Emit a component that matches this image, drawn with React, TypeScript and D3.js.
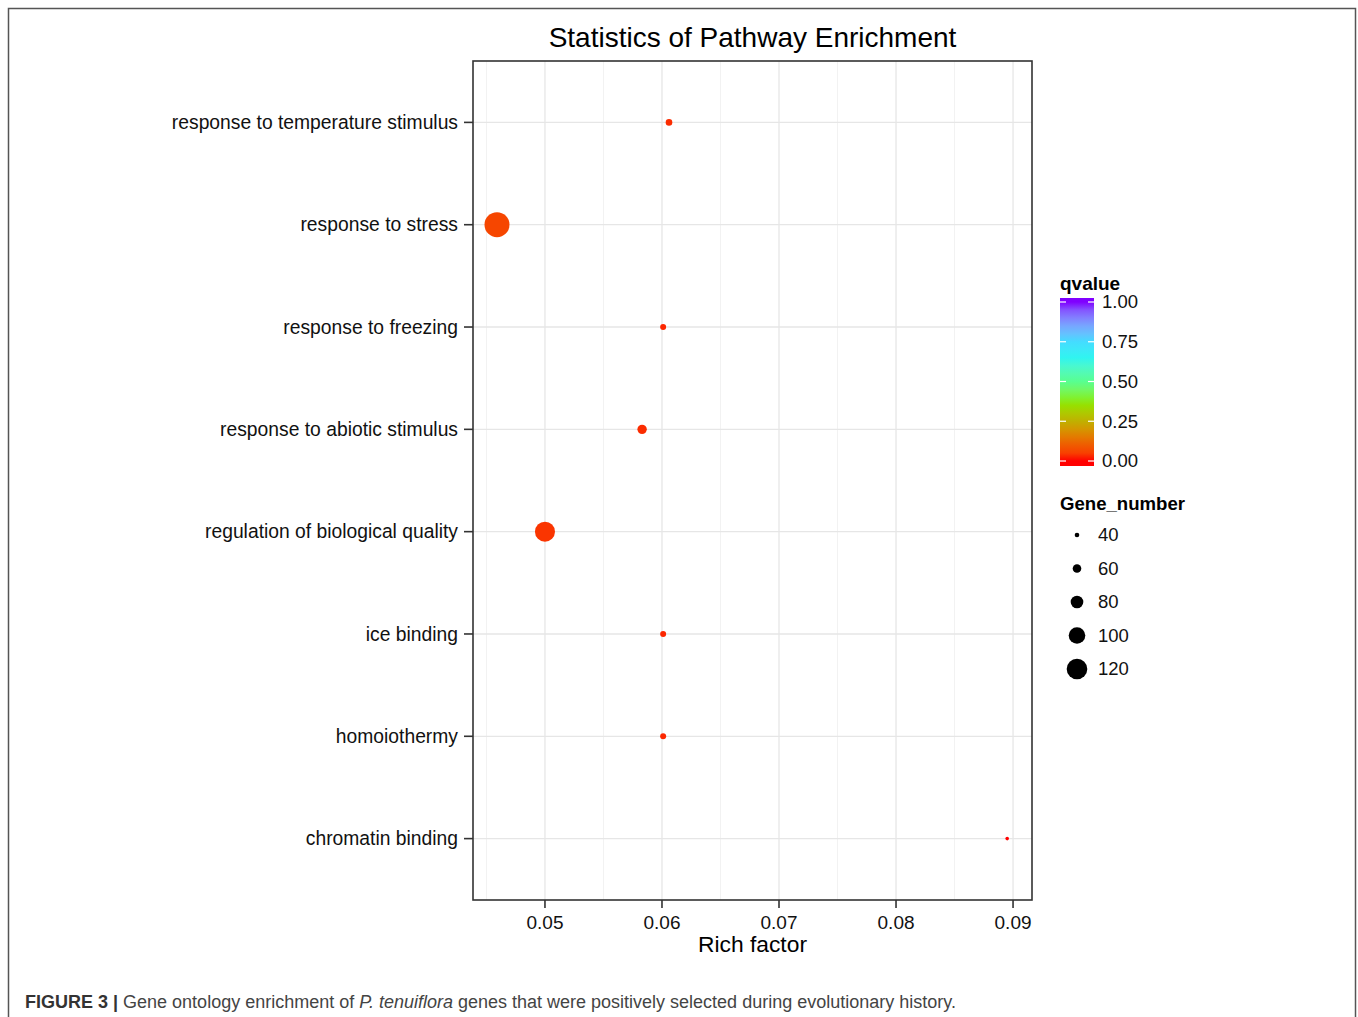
import React from "react";
import * as d3 from "d3";

const categories = [
  "response to temperature stimulus",
  "response to stress",
  "response to freezing",
  "response to abiotic stimulus",
  "regulation of biological quality",
  "ice binding",
  "homoiothermy",
  "chromatin binding",
];
const richFactor = [0.0606, 0.0459, 0.0601, 0.0583, 0.05, 0.0601, 0.0601, 0.0895];
const geneNumber = [50, 142, 47, 64, 117, 47, 47, 35];
const qvalue = [0.025, 0.06, 0.02, 0.025, 0.035, 0.02, 0.02, 0.0];

const xTicks = [0.05, 0.06, 0.07, 0.08, 0.09];
const xMinor = [0.045, 0.055, 0.065, 0.075, 0.085];
const xLimits = [0.04385, 0.09162];
const qTicks = [0, 0.25, 0.5, 0.75, 1];
const sizeBreaks = [40, 60, 80, 100, 120];
const colorStops = [0, 0.12, 0.25, 0.38, 0.5, 0.65, 0.75, 0.86, 1];
const colorValues = ["#ff0000", "#ec6400", "#c0b000", "#84ee00", "#58ff90", "#30f4f0", "#44dcff", "#7aa0ff", "#8000ff"];

const FONT = "'Liberation Sans', Arial, Helvetica, sans-serif";

export default function App() {
  const W = 1358, H = 1017;
  const pL = 473, pR = 1032, pT = 61, pB = 900;

  const x = d3.scaleLinear().domain(xLimits).range([pL, pR]);
  const y = d3.scalePoint<string>().domain(categories).range([pT, pB]).padding(0.6);
  const r = d3.scaleLinear().domain([40, 120]).range([2.3, 10.3]);
  const color = d3
    .scaleLinear<string>()
    .domain(colorStops)
    .range(colorValues)
    .interpolate(d3.interpolateLab);

  const cbX = 1060, cbW = 34, cbTop = 298, cbBot = 466;
  const qy = d3.scaleLinear().domain([0, 1]).range([461, 302]);

  const gradStops = d3.range(0, 1.0001, 0.05);

  const data = categories.map((c, i) => ({
    c,
    rf: richFactor[i],
    n: geneNumber[i],
    q: qvalue[i],
  }));

  return (
    <svg
      width={W}
      height={H}
      style={{ position: "absolute", left: 0, top: 0, display: "block", background: "#fff" }}
      fontFamily={FONT}
    >
      <defs>
        <linearGradient id="qgrad" x1="0" y1="1" x2="0" y2="0">
          {gradStops.map((s) => (
            <stop key={s} offset={`${(qy(s) - cbBot) / (cbTop - cbBot) * 100}%`} stopColor={color(s)} />
          ))}
        </linearGradient>
      </defs>
      <rect x={0} y={0} width={W} height={H} fill="#fff" />
      {/* outer figure frame */}
      <rect x={8.5} y={8.5} width={1347} height={1040} fill="none" stroke="#555" strokeWidth={1.5} />

      {/* title */}
      <text x={(pL + pR) / 2} y={47} textAnchor="middle" fontSize={28} fill="#000">
        Statistics of Pathway Enrichment
      </text>

      {/* grid */}
      {xMinor.map((t) => (
        <line key={"mn" + t} x1={x(t)} x2={x(t)} y1={pT} y2={pB} stroke="#f2f2f2" strokeWidth={1} />
      ))}
      {xTicks.map((t) => (
        <line key={"mj" + t} x1={x(t)} x2={x(t)} y1={pT} y2={pB} stroke="#e6e6e6" strokeWidth={1.3} />
      ))}
      {categories.map((c) => (
        <line key={"h" + c} x1={pL} x2={pR} y1={y(c)} y2={y(c)} stroke="#e6e6e6" strokeWidth={1.3} />
      ))}

      {/* points */}
      {data.map((d) => (
        <circle key={d.c} cx={x(d.rf)} cy={y(d.c)} r={r(d.n)} fill={color(d.q)} />
      ))}

      {/* panel border */}
      <rect x={pL} y={pT} width={pR - pL} height={pB - pT} fill="none" stroke="#333" strokeWidth={1.6} />

      {/* y axis */}
      {categories.map((c) => (
        <g key={"yl" + c}>
          <line x1={pL - 9} x2={pL} y1={y(c)} y2={y(c)} stroke="#333" strokeWidth={1.6} />
          <text x={pL - 15} y={y(c)!} dy="0.35em" textAnchor="end" fontSize={19.3} fill="#111">
            {c}
          </text>
        </g>
      ))}

      {/* x axis */}
      {xTicks.map((t) => (
        <g key={"xt" + t}>
          <line x1={x(t)} x2={x(t)} y1={pB} y2={pB + 8} stroke="#333" strokeWidth={1.6} />
          <text x={x(t)} y={929} textAnchor="middle" fontSize={19} fill="#111">
            {t.toFixed(2)}
          </text>
        </g>
      ))}
      <text x={(pL + pR) / 2} y={952} textAnchor="middle" fontSize={22.8} fill="#000">
        Rich factor
      </text>

      {/* colour legend */}
      <text x={1060} y={290} fontSize={19} fontWeight="bold" fill="#000">
        qvalue
      </text>
      <rect x={cbX} y={cbTop} width={cbW} height={cbBot - cbTop} fill="url(#qgrad)" />
      {qTicks.map((t) => (
        <g key={"qt" + t}>
          <line x1={cbX} x2={cbX + 6} y1={qy(t)} y2={qy(t)} stroke="#fff" strokeWidth={1.2} />
          <line x1={cbX + cbW - 6} x2={cbX + cbW} y1={qy(t)} y2={qy(t)} stroke="#fff" strokeWidth={1.2} />
          <text x={1102} y={qy(t)} dy="0.35em" fontSize={18.5} fill="#111">
            {t.toFixed(2)}
          </text>
        </g>
      ))}

      {/* size legend */}
      <text x={1060} y={510} fontSize={18.6} fontWeight="bold" fill="#000">
        Gene_number
      </text>
      {sizeBreaks.map((b, i) => {
        const cy = 535 + i * 33.5;
        return (
          <g key={"sb" + b}>
            <circle cx={1077} cy={cy} r={r(b)} fill="#000" />
            <text x={1098} y={cy} dy="0.35em" fontSize={18.5} fill="#111">
              {b}
            </text>
          </g>
        );
      })}

      {/* caption */}
      <text x={25} y={1008} fontSize={18} fill="#444">
        <tspan fontWeight="bold" fill="#333">FIGURE 3 |</tspan>
        <tspan> Gene ontology enrichment of </tspan>
        <tspan fontStyle="italic">P. tenuiflora</tspan>
        <tspan> genes that were positively selected during evolutionary history.</tspan>
      </text>
    </svg>
  );
}
